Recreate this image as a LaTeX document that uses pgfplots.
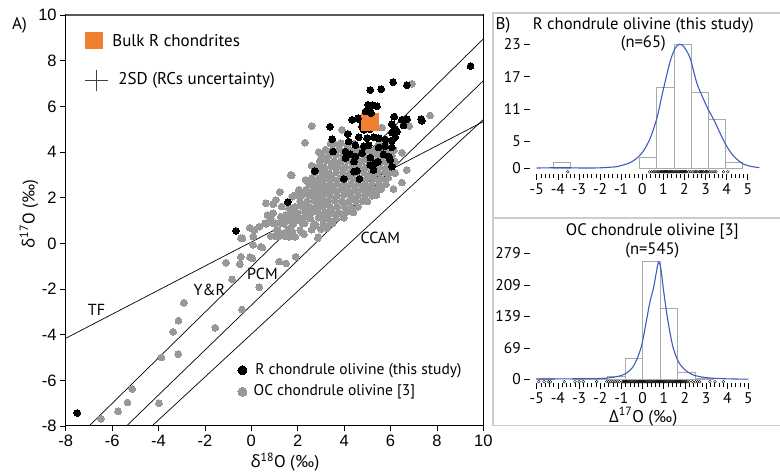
\documentclass[border=0pt]{standalone}
\usepackage{pgfplots}
\pgfplotsset{compat=1.18}
\usepackage{fontspec}
\setmainfont{Liberation Sans}
\newfontfamily\lab{PT Sans}
\newfontfamily\gr{Open Sans}
\definecolor{ocgray}{RGB}{152,152,152}
\definecolor{rcorange}{RGB}{240,128,48}
\definecolor{kdeblue}{RGB}{62,92,190}
\definecolor{framegray}{RGB}{205,205,205}
\definecolor{bargray}{RGB}{170,170,170}
\newcommand{\fs}[1]{\fontsize{#1}{#1}\selectfont}
\begin{document}
\begin{tikzpicture}[x=1pt,y=1pt]
\path[use as bounding box] (0,0) rectangle (780,473);
\draw[framegray, line width=1.2pt] (781,460) -- (493,460) -- (493,47.3) -- (781,47.3);
\draw[framegray, line width=1.2pt] (493,255) -- (781,255);
% ---------------- panel A ----------------
\begin{axis}[at={(65.7pt,47pt)}, anchor=south west, scale only axis,
  width=417.6pt, height=411pt, xmin=-8, xmax=10, ymin=-8, ymax=10,
  xtick={-8,-6,...,10}, ytick={-8,-6,...,10},
  tick align=outside, xtick pos=left, ytick pos=left,
  major tick length=5.5pt, tick style={black, line width=0.8pt},
  axis line style={line width=1pt, black},
  ticklabel style={font=\fs{16.5}},
  /pgf/number format/assume math mode=true, clip=false]
\addplot[black, line width=0.7pt, mark=none] coordinates {(-8,-4.16) (10,5.33)};
\addplot[black, line width=0.7pt, mark=none] coordinates {(-6.99,-8) (10,8.95)};
\addplot[black, line width=0.7pt, mark=none] coordinates {(-5.38,-8) (10,7.12)};
\addplot[black, line width=0.7pt, mark=none] coordinates {(-4.28,-8) (10,5.42)};
% OC chondrule olivine
\addplot[only marks, mark=*, mark size=3.4pt, mark options={draw=ocgray, fill=ocgray, line width=0pt}] coordinates {
(-6.48,-7.69) (-5.74,-7.36) (-5.34,-6.97) (-5.14,-6.38) (-3.98,-7.0) (-3.88,-5.0) (-3.15,-4.86)
(-3.37,-3.88) (-3.14,-3.39) (-2.91,-2.6) (-1.55,-3.7) (-0.40,-2.9) (-0.83,-1.58) (0.34,-1.93)
(-1.09,-0.85) (-0.49,-0.91) (-0.06,-0.61) (-0.45,0.22) (0.08,-0.07) (0.48,-0.18) (1.05,0.3)
(1.27,0.35) (1.63,0.28) (2.27,0.4) (1.41,0.45) (1.2,-0.8) (1.5,-0.88) (1.91,-0.59) (2.87,0.22)
(-0.45,-0.59) (0.05,-0.66) (-0.07,0.68) (0.14,0.58) (-0.38,0.22) (0.09,0.29) (0.41,-0.15)
(0.95,1.32) (0.7,1.24) (1.03,0.88) (1.27,0.88) (0.6,0.88) (0.84,0.32) (1.2,0.32) (1.49,0.3)
(1.89,0.29) (2.2,0.46) (3.27,0.66) (2.88,0.26) (1.70,3.0) (1.23,2.25) (1.99,2.13) (2.1,2.25)
(0.95,1.71) (1.74,2.97) (2.60,5.14) (2.31,4.41) (3.91,4.97) (3.42,4.38) (5.63,5.07) (7.71,5.6)
(6.92,6.99) (6.81,5.14) (6.49,3.97) (6.7,3.21) (6.49,2.66) (6.13,2.38) (6.2,3.07)
(0.63,0.85) (0.91,0.9) (1.27,1.17) (1.63,1.02) (1.91,1.31) (2.2,0.88) (2.49,1.31) (2.84,1.53)
(3.2,1.31) (3.42,0.88) (1.31,1.61) (1.63,1.53) (1.48,1.24) (1.77,1.17) (1.98,1.02) (2.2,0.95)
(2.34,1.17) (2.56,1.46) (2.77,1.61) (2.91,1.83) (3.06,1.97) (2.56,2.19) (2.91,2.34) (3.2,2.48)
(2.7,2.63) (3.06,2.78) (3.27,3.07) (3.63,3.36) (2.34,2.78) (2.06,2.34) (1.77,2.04) (1.05,1.9)
(0.63,1.75) (0.84,1.1) (0.34,0.73) (1.13,0.58) (1.77,0.51) (2.77,0.8) (3.06,1.1) (3.49,1.31)
(2.91,3.2) (2.6,3.4) (3.0,3.7) (2.9,4.0)
(3.55,4.35) (3.85,4.38) (4.15,4.33) (4.45,4.37) (5.5,4.35) (5.8,4.38)
(3.2,4.1) (3.5,4.08) (3.8,4.12) (4.1,4.1) (4.4,4.07) (4.7,4.12) (5.0,4.1) (5.3,4.08) (5.6,4.12) (5.9,4.1) (6.15,4.07)
(3.05,3.85) (3.35,3.83) (3.65,3.87) (3.95,3.85) (4.25,3.82) (4.55,3.87) (4.85,3.85) (5.15,3.83) (5.45,3.87) (5.75,3.85) (6.05,3.83)
(2.95,3.6) (3.25,3.62) (3.55,3.58) (3.85,3.6) (4.15,3.62) (4.45,3.58) (4.75,3.6) (5.05,3.62) (5.35,3.58) (5.65,3.6) (5.95,3.62) (6.2,3.58)
(2.85,3.35) (3.15,3.33) (3.45,3.37) (3.75,3.35) (4.05,3.33) (4.35,3.37) (4.65,3.35) (4.95,3.33) (5.25,3.37) (5.55,3.35) (5.85,3.33)
(2.75,3.1) (3.05,3.12) (3.35,3.08) (3.65,3.1) (3.95,3.12) (4.25,3.08) (4.55,3.1) (4.85,3.12) (5.15,3.08) (5.45,3.1) (5.75,3.12) (6.0,3.1)
(2.6,2.85) (2.9,2.83) (3.2,2.87) (3.5,2.85) (3.8,2.83) (4.1,2.87) (4.4,2.85) (4.7,2.83) (5.0,2.87) (5.3,2.85) (5.6,2.83) (5.9,2.87)
(2.5,2.6) (2.8,2.62) (3.1,2.58) (3.4,2.6) (3.7,2.62) (4.0,2.58) (4.3,2.6) (4.6,2.62) (4.9,2.58) (5.2,2.6) (5.5,2.62) (5.8,2.58)
(2.35,2.35) (2.65,2.33) (2.95,2.37) (3.25,2.35) (3.55,2.33) (3.85,2.37) (4.15,2.35) (4.45,2.33) (4.75,2.37) (5.05,2.35) (5.35,2.33) (5.6,2.37)
(1.9,2.1) (2.2,2.12) (2.5,2.08) (2.8,2.1) (3.1,2.12) (3.4,2.08) (3.7,2.1) (4.0,2.12) (4.3,2.08) (4.6,2.1) (4.9,2.12) (5.2,2.08) (5.4,2.12)
(2.1,1.85) (2.4,1.83) (2.7,1.87) (3.0,1.85) (3.3,1.83) (3.6,1.87) (3.9,1.85) (4.2,1.83) (4.5,1.87) (4.8,1.85) (5.0,1.83)
(1.9,1.6) (2.2,1.62) (2.5,1.58) (2.8,1.6) (3.1,1.62) (3.4,1.58) (3.7,1.6) (4.0,1.62) (4.3,1.58) (4.6,1.6)
(1.7,1.35) (2.0,1.33) (2.3,1.37) (2.6,1.35) (2.9,1.33) (3.2,1.37) (3.5,1.35) (3.8,1.33) (4.1,1.37) (4.4,1.35)
(1.5,1.1) (1.85,1.12) (2.2,1.08) (2.55,1.1) (2.9,1.12) (3.3,1.08) (3.65,1.1) (4.0,1.12)
(1.4,0.85) (1.8,0.83) (2.3,0.87) (2.7,0.85) (3.1,0.83) (3.5,0.87)
(1.1,0.6) (1.6,0.62) (2.1,0.58) (2.6,0.6) (3.0,0.62)
};
% R chondrule olivine (beneath the orange patch)
\addplot[only marks, mark=*, mark size=3.4pt, mark options={draw=black, fill=black, line width=0pt}] coordinates {
(4.77,5.12) (4.85,4.97) (5.13,5.0) (4.7,5.4)};
% Bulk R chondrites
\addplot[only marks, mark=square*, mark size=5pt, mark options={draw=rcorange, fill=rcorange, line width=0pt}] coordinates {
(4.95,5.15) (5.28,5.15) (4.95,5.45) (5.28,5.45) (5.12,5.3)};
% R chondrule olivine
\addplot[only marks, mark=*, mark size=3.4pt, mark options={draw=black, fill=black, line width=0pt}] coordinates {
(9.45,7.76) (6.11,7.06) (5.6,6.75) (5.13,6.71) (6.71,6.93)
(5.03,6.07) (5.23,6.05) (5.42,6.0) (4.92,5.77) (5.06,5.85) (5.17,5.7)
(4.6,5.48) (4.35,5.41)
(6.16,5.55) (6.49,5.41) (6.71,5.44) (7.32,5.44) (7.35,5.37)
(6.06,5.22) (6.2,5.02) (6.28,4.9) (6.06,4.85) (6.56,5.17) (6.63,5.42)
(4.63,4.65) (4.99,4.6) (5.28,4.65) (5.49,4.6) (5.78,4.55) (6.06,4.5) (6.2,4.65)
(4.49,4.3) (4.85,4.25) (5.06,4.3) (5.49,4.2) (5.75,4.25) (6.06,4.2)
(4.27,3.9) (4.49,3.8) (4.77,3.95) (5.13,3.75) (5.7,3.9) (5.92,3.8)
(3.39,5.11) (4.16,4.79) (3.49,4.56) (3.53,4.02) (4.06,4.02)
(4.06,3.73) (4.42,3.58) (5.35,3.51) (5.99,3.65) (2.73,3.17) (4.42,3.14) (4.56,3.18)
(5.13,3.43) (5.46,3.58) (3.99,2.82) (4.66,2.82) (1.58,1.81) (4.2,4.46) (5.27,3.21) (6.06,3.36)
(-0.66,0.54) (-7.5,-7.43)};
% legend symbols
\addplot[only marks, mark=square*, mark size=8.3pt, mark options={draw=rcorange, fill=rcorange, line width=0pt}] coordinates {(-6.77,8.89)};
\addplot[black!75, line width=0.9pt, mark=none] coordinates {(-7.15,7.12) (-6.19,7.12)};
\addplot[black!75, line width=0.9pt, mark=none] coordinates {(-6.67,6.66) (-6.67,7.58)};
\addplot[only marks, mark=*, mark size=4.5pt, mark options={draw=black, fill=black, line width=0pt}] coordinates {(-0.38,-5.56)};
\addplot[only marks, mark=*, mark size=4.5pt, mark options={draw=ocgray, fill=ocgray, line width=0pt}] coordinates {(-0.38,-6.5)};
\node[anchor=west, font=\lab\fs{17}] at (axis cs:-6.14,8.89) {Bulk R chondrites};
\node[anchor=west, font=\lab\fs{17}] at (axis cs:-5.88,7.12) {2SD (RCs uncertainty)};
\node[anchor=west, font=\lab\fs{15.5}] at (axis cs:0.02,-5.56) {R chondrule olivine (this study)};
\node[anchor=west, font=\lab\fs{15.5}] at (axis cs:-0.05,-6.5) {OC chondrule olivine [3]};
\node[font=\lab\fs{16}] at (axis cs:-6.67,-2.93) {TF};
\node[font=\lab\fs{16}] at (axis cs:-1.81,-2.05) {Y\&R};
\node[font=\lab\fs{16}] at (axis cs:0.48,-1.32) {PCM};
\node[font=\lab\fs{16}] at (axis cs:5.56,0.22) {CCAM};
\draw[black!65, line width=1.6pt] (rel axis cs:0,1) -- (rel axis cs:1,1);
\end{axis}
\node[font=\lab\fs{17}] at (19.5,448) {A)};
\node[font=\lab\fs{17}, rotate=90] at (29,259) {{\gr δ}\textsuperscript{17}O (‰)};
\node[font=\lab\fs{17}] at (285,11) {{\gr δ}\textsuperscript{18}O (‰)};
% ---------------- panel B top ----------------
\begin{axis}[at={(530.4pt,299pt)}, anchor=south west, scale only axis,
  width=230pt, height=135.1pt, xmin=-5.3, xmax=5.6, ymin=-1.06, ymax=24,
  axis line style={draw=none}, tick align=outside, xtick pos=left, ytick pos=left,
  xtick={-5,...,5}, minor x tick num=4, ytick={0,5,11,17,23},
  major tick length=6pt, minor tick length=4pt,
  tick style={black, line width=0.6pt},
  ticklabel style={font=\lab\fs{15.5}},
  /pgf/number format/assume math mode=true, clip=false]
\addplot[ybar interval, draw=bargray, fill=none, line width=0.8pt] coordinates {(-4.2,1) (-3.385,1)};
\addplot[ybar interval, draw=bargray, fill=none, line width=0.8pt] coordinates {
(-0.125,2) (0.69,15) (1.505,23) (2.32,14) (3.135,9) (3.95,1) (4.765,1)};
\addplot[only marks, mark=o, mark size=1.4pt, mark options={black, line width=0.35pt}] coordinates {
(-3.53,-0.65) (0.35,-0.65) (0.45,-0.65) (0.55,-0.65) (0.6,-0.65) (0.7,-0.65) (0.75,-0.65) (0.8,-0.65)
(0.85,-0.65) (0.9,-0.65) (0.95,-0.65) (1.0,-0.65) (1.05,-0.65) (1.1,-0.65) (1.15,-0.65) (1.2,-0.65)
(1.25,-0.65) (1.3,-0.65) (1.35,-0.65) (1.4,-0.65) (1.45,-0.65) (1.5,-0.65) (1.55,-0.65) (1.6,-0.65)
(1.65,-0.65) (1.7,-0.65) (1.75,-0.65) (1.8,-0.65) (1.85,-0.65) (1.9,-0.65) (1.95,-0.65) (2.0,-0.65)
(2.05,-0.65) (2.1,-0.65) (2.2,-0.65) (2.3,-0.65) (2.4,-0.65) (2.5,-0.65) (2.55,-0.65) (2.6,-0.65)
(2.7,-0.65) (2.75,-0.65) (2.8,-0.65) (2.85,-0.65) (2.9,-0.65) (3.0,-0.65) (3.05,-0.65) (3.1,-0.65)
(3.2,-0.65) (3.3,-0.65) (3.4,-0.65) (3.5,-0.65) (3.85,-0.65) (4.05,-0.65)};
\addplot[kdeblue, line width=1.1pt, smooth, mark=none] coordinates {
(-5,0.05) (-4.5,0.08) (-4,0.12) (-3.5,0.1) (-3,0.06) (-2.5,0.05) (-2,0.08) (-1.5,0.2)
(-1.21,0.3) (-0.89,0.62) (-0.57,1.05) (-0.26,1.86) (0.06,3.22) (0.37,5.52) (0.69,9.24)
(1.0,14.63) (1.32,19.78) (1.56,22.26) (1.76,23.0) (1.97,22.57) (2.27,20.4) (2.58,15.9)
(2.86,13.2) (3.14,10.79) (3.4,8.93) (3.93,4.59) (4.3,2.4) (4.75,0.87) (5.15,0.35) (5.55,0.12)};
\end{axis}
\node[font=\lab\fs{17}] at (503,448) {B)};
\node[font=\lab\fs{16.6}] at (643.3,448) {R chondrule olivine (this study)};
\node[font=\lab\fs{16.6}] at (643.3,429.7) {(n=65)};
% ---------------- panel B bottom ----------------
\begin{axis}[at={(530.35pt,90pt)}, anchor=south west, scale only axis,
  width=230.8pt, height=132.4pt, xmin=-5.3, xmax=5.6, ymin=-8.2, ymax=285,
  axis line style={draw=none}, tick align=outside, xtick pos=left, ytick pos=left,
  xtick={-5,...,5}, minor x tick num=4, ytick={0,69,139,209,279},
  major tick length=6pt, minor tick length=4pt,
  tick style={black, line width=0.6pt},
  ticklabel style={font=\lab\fs{15.5}},
  /pgf/number format/assume math mode=true, clip=false]
\addplot[ybar interval, draw=bargray, fill=none, line width=0.8pt] coordinates {(-5,3) (-4.1667,3)};
\addplot[ybar interval, draw=bargray, fill=none, line width=0.8pt] coordinates {
(-3.3333,1) (-2.5,1) (-1.6667,7) (-0.8333,46) (0,260) (0.8333,157) (1.6667,15) (2.5,3) (3.3333,3)};
\addplot[only marks, mark=o, mark size=1.4pt, mark options={black, line width=0.35pt}] coordinates {
(-4.9,-5.3) (-4.65,-5.3) (-4.45,-5.3) (-4.35,-5.3) (-3.7,-5.3) (-3.19,-5.3) (-3.0,-5.3) (-2.8,-5.3)
(-2.17,-5.3) (-1.7,-5.3) (-1.6,-5.3) (-1.5,-5.3) (-1.4,-5.3) (-1.3,-5.3) (-1.2,-5.3) (-1.1,-5.3)
(-0.95,-5.3) (-0.9,-5.3) (-0.85,-5.3) (-0.8,-5.3) (-0.75,-5.3) (-0.7,-5.3) (-0.65,-5.3) (-0.6,-5.3)
(-0.55,-5.3) (-0.5,-5.3) (-0.45,-5.3) (-0.4,-5.3) (-0.35,-5.3) (-0.3,-5.3) (-0.25,-5.3) (-0.2,-5.3)
(-0.15,-5.3) (-0.1,-5.3) (-0.05,-5.3) (0,-5.3) (0.05,-5.3) (0.1,-5.3) (0.15,-5.3) (0.2,-5.3)
(0.25,-5.3) (0.3,-5.3) (0.35,-5.3) (0.4,-5.3) (0.45,-5.3) (0.5,-5.3) (0.55,-5.3) (0.6,-5.3)
(0.65,-5.3) (0.7,-5.3) (0.75,-5.3) (0.8,-5.3) (0.85,-5.3) (0.9,-5.3) (0.95,-5.3) (1.0,-5.3)
(1.05,-5.3) (1.1,-5.3) (1.15,-5.3) (1.2,-5.3) (1.25,-5.3) (1.3,-5.3) (1.35,-5.3) (1.4,-5.3)
(1.45,-5.3) (1.5,-5.3) (1.55,-5.3) (1.6,-5.3) (1.65,-5.3) (1.7,-5.3) (1.75,-5.3) (1.8,-5.3)
(1.85,-5.3) (1.9,-5.3) (1.95,-5.3) (2.0,-5.3) (2.05,-5.3) (2.1,-5.3) (2.2,-5.3) (2.35,-5.3)
(2.5,-5.3) (2.6,-5.3) (2.7,-5.3) (3.18,-5.3) (3.42,-5.3) (3.81,-5.3)};
\addplot[kdeblue, line width=1.1pt, smooth, mark=none] coordinates {
(-5,0.5) (-4,0.8) (-3,1.2) (-2.5,1.5) (-1.85,2) (-1.22,5.8) (-0.83,11.7) (-0.51,24)
(-0.28,43) (-0.04,76) (0.16,124) (0.35,172) (0.51,201) (0.67,242) (0.76,260) (0.86,246)
(0.98,201) (1.14,146) (1.30,102) (1.45,69) (1.69,39) (2.0,21) (2.4,9.5) (3.03,3.5)
(3.98,1) (5.0,0.3)};
\end{axis}
\node[font=\lab\fs{16.6}] at (652.3,241.3) {OC chondrule olivine [3]};
\node[font=\lab\fs{16.6}] at (652.3,223) {(n=545)};
\node[font=\lab\fs{17}] at (643.3,56.3) {{\gr Δ}\textsuperscript{17}O (‰)};
\end{tikzpicture}
\end{document}
